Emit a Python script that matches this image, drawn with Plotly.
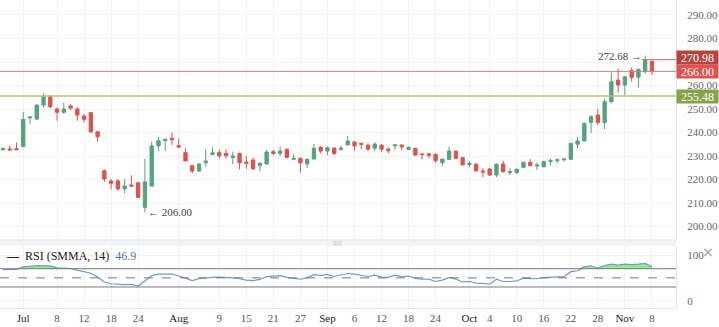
import plotly.graph_objects as go
import pandas as pd

# ---------------- data ----------------
dates = [d.strftime('%Y-%m-%d') for d in pd.bdate_range('2019-06-26', '2019-11-08')
         if d.strftime('%Y-%m-%d') != '2019-11-05']

opens = [232.7, 233.0, 233.1, 234.0, 246.2, 245.7, 251.7, 255.2, 250.0, 248.6,
         251.3, 250.0, 247.0, 248.4, 240.3, 223.7, 219.4, 219.4, 216.1, 217.7,
         218.6, 208.2, 217.2, 234.3, 236.5, 237.5, 234.4, 231.4, 225.9, 223.6,
         227.1, 230.6, 231.4, 231.1, 229.4, 231.1, 227.4, 228.3, 226.0, 226.6,
         231.8, 231.1, 232.8, 228.6, 229.0, 226.6, 228.7, 233.7, 232.1, 233.4,
         232.8, 234.7, 236.0, 235.4, 234.6, 233.3, 234.6, 232.9, 234.3, 234.7,
         232.8, 233.3, 230.9, 230.9, 230.7, 227.1, 228.6, 232.1, 229.3, 226.3,
         226.5, 223.6, 224.5, 221.9, 226.6, 222.9, 222.9, 225.2, 227.3, 225.7,
         225.4, 227.7, 228.0, 228.4, 228.6, 235.0, 236.4, 244.3, 247.4, 244.2,
         253.1, 262.3, 260.2, 266.3, 263.5, 265.9, 270.3]
highs = [233.5, 234.5, 235.7, 248.7, 246.9, 251.9, 256.7, 256.0, 250.7, 252.7,
         252.0, 250.7, 247.9, 248.6, 240.6, 224.3, 220.2, 220.2, 220.2, 221.8,
         219.0, 228.8, 236.1, 238.2, 237.5, 239.9, 237.4, 233.3, 226.2, 227.0,
         232.9, 233.7, 232.6, 232.9, 231.8, 231.4, 230.0, 229.4, 227.4, 232.6,
         232.6, 234.0, 233.3, 230.9, 229.4, 229.0, 235.1, 234.3, 234.0, 233.7,
         234.3, 238.5, 236.0, 235.4, 235.4, 235.7, 235.1, 233.7, 234.7, 234.7,
         234.0, 233.3, 230.9, 231.4, 231.1, 228.7, 234.0, 232.1, 229.3, 228.0,
         226.9, 224.8, 224.8, 226.9, 228.0, 224.8, 224.8, 227.6, 228.6, 227.1,
         228.0, 228.9, 229.0, 229.0, 235.7, 238.2, 244.2, 247.4, 249.9, 254.5,
         265.4, 267.3, 264.0, 267.7, 266.9, 272.68, 270.3]
lows = [232.3, 232.4, 232.6, 233.8, 243.6, 245.3, 250.7, 250.3, 245.0, 247.9,
        249.6, 245.0, 244.2, 239.7, 236.0, 218.9, 215.8, 215.2, 214.1, 216.9,
        212.0, 206.0, 217.2, 232.1, 232.1, 234.7, 233.4, 227.9, 222.6, 223.3,
        225.4, 230.6, 228.9, 228.9, 226.5, 224.3, 224.6, 224.0, 223.6, 226.2,
        230.4, 230.0, 229.0, 228.3, 222.9, 224.8, 228.7, 231.1, 230.4, 230.3,
        232.3, 234.7, 232.3, 232.8, 232.3, 232.1, 231.8, 231.1, 232.6, 232.3,
        232.6, 230.0, 228.6, 229.0, 227.1, 225.7, 228.3, 229.0, 226.2, 225.2,
        223.3, 220.9, 221.5, 220.9, 222.9, 221.9, 222.3, 224.8, 225.7, 224.0,
        225.2, 226.0, 226.9, 227.6, 228.3, 233.3, 236.2, 239.7, 243.2, 241.4,
        252.4, 256.9, 256.0, 261.6, 259.2, 264.9, 264.5]
closes = [233.2, 232.6, 232.7, 245.6, 246.6, 251.7, 255.5, 251.0, 248.6, 250.0,
          250.4, 247.4, 245.6, 240.3, 238.2, 220.2, 218.4, 216.0, 217.2, 217.2,
          212.4, 219.0, 234.3, 236.5, 237.1, 236.9, 233.8, 227.9, 223.6, 226.6,
          227.9, 231.4, 230.1, 230.1, 230.0, 227.1, 226.9, 224.6, 226.9, 231.7,
          231.1, 232.1, 229.4, 229.0, 227.1, 228.6, 233.3, 232.1, 233.5, 231.1,
          233.4, 236.4, 234.3, 235.0, 232.9, 235.1, 232.9, 232.3, 234.7, 233.9,
          233.7, 230.4, 230.6, 230.3, 228.0, 228.7, 232.1, 229.0, 226.2, 226.9,
          223.7, 223.2, 221.9, 226.5, 223.3, 223.3, 224.3, 227.3, 225.9, 226.2,
          227.7, 228.1, 228.4, 228.7, 235.4, 236.4, 243.9, 246.7, 244.3, 253.1,
          261.6, 260.2, 263.7, 263.5, 266.9, 270.7, 266.00]

rsi = [68, 68, 68.5, 74, 75.5, 77, 76.5, 76, 72, 71,
       70.5, 67, 63, 60, 52, 41, 37, 35.5, 35, 36,
       32, 43, 55, 58, 58.5, 58, 54, 49, 44, 48,
       50, 51, 51.5, 51, 50, 48, 45, 44, 46.5, 52.5,
       54, 55, 51, 49.5, 47, 50, 57, 55.5, 57.7, 53,
       55.5, 59.5, 58, 56, 53, 56, 51, 51, 56, 52.5,
       54, 49, 47, 47, 42, 45, 51, 47, 41, 42,
       38.5, 38, 36, 47, 42, 42, 43.5, 49, 48, 48,
       50.5, 51, 51, 52.5, 63.5, 65.5, 74.5, 76.5, 71, 77,
       80, 78, 80, 79, 80, 81.5, 74.5]

tick_dates = ['2019-07-01', '2019-07-08', '2019-07-12', '2019-07-18', '2019-07-24',
              '2019-08-01', '2019-08-09', '2019-08-15', '2019-08-21', '2019-08-27',
              '2019-09-02', '2019-09-06', '2019-09-12', '2019-09-18', '2019-09-24',
              '2019-10-01', '2019-10-04', '2019-10-10', '2019-10-16', '2019-10-22',
              '2019-10-28', '2019-11-01', '2019-11-08']
tick_labels = ['Jul', '8', '12', '18', '24', 'Aug', '9', '15', '21', '27',
               'Sep', '6', '12', '18', '24', 'Oct', '4', '10', '16', '22',
               '28', 'Nov', '8']
month_labels = {'Jul', 'Aug', 'Sep', 'Oct', 'Nov'}

price_ticks = [200, 210, 220, 230, 240, 250, 260, 270, 280, 290]
last_close = 266.00
upper_line = 270.98
green_line = 255.48
high_mark = 272.68
low_mark = 206.00
rsi_levels = [70, 50, 30]
rsi_legend_value = '46.9'

# ---------------- figure ----------------
FONT = 'Liberation Serif'
GRID = '#f0f2f5'
n = len(dates)
xr = [-0.44, 99.56]

fig = go.Figure()

fig.add_trace(go.Candlestick(
    x=dates, open=opens, high=highs, low=lows, close=closes,
    increasing=dict(line=dict(color='#55a37f', width=1), fillcolor='#55a37f'),
    decreasing=dict(line=dict(color='#e0514d', width=1), fillcolor='#e0514d'),
    xaxis='x', yaxis='y', showlegend=False, hoverinfo='skip'))

rsi_hi = [max(v, 70) for v in rsi]
fig.add_trace(go.Scatter(x=dates, y=[70] * n, mode='lines', line=dict(width=0, color='rgba(0,0,0,0)'),
                         xaxis='x2', yaxis='y2', showlegend=False, hoverinfo='skip'))
fig.add_trace(go.Scatter(x=dates, y=rsi_hi, mode='lines', line=dict(width=0, color='rgba(0,0,0,0)'),
                         fill='tonexty', fillcolor='#8fec8f',
                         xaxis='x2', yaxis='y2', showlegend=False, hoverinfo='skip'))
fig.add_trace(go.Scatter(x=dates, y=rsi, mode='lines', line=dict(width=1.2, color='#7199cc'),
                         xaxis='x2', yaxis='y2', showlegend=False, hoverinfo='skip'))

shapes = []
# separator band between panels
main_bottom = (308 - 240) / 308
rsi_top = (308 - 246) / 308
shapes.append(dict(type='rect', xref='paper', yref='paper', x0=0, x1=1, y0=rsi_top, y1=main_bottom,
                   fillcolor='#f1f3f6', line=dict(width=0), layer='below'))
shapes.append(dict(type='line', xref='paper', yref='paper', x0=0, x1=1, y0=main_bottom, y1=main_bottom,
                   line=dict(color='#e2e5ea', width=1)))
for k, yy in enumerate([241.5, 243.2, 244.9]):
    py = (308 - yy) / 308
    shapes.append(dict(type='line', xref='paper', yref='paper', x0=333 / 676, x1=342 / 676, y0=py, y1=py,
                       line=dict(color='#d3d7dc', width=1)))
# darker month gridlines
for d, lab in zip(tick_dates, tick_labels):
    if lab in month_labels and lab != 'Jul' and lab != 'Nov':
        i = dates.index(d)
        for yref, yr in (('y', (194.26, 296.38)), ('y2', (-16, 119.7))):
            shapes.append(dict(type='line', xref='x' if yref == 'y' else 'x2', yref=yref,
                               x0=i, x1=i, y0=yr[0], y1=yr[1],
                               line=dict(color='#dfe2e6', width=1), layer='below'))
# price lines
shapes.append(dict(type='line', xref='paper', yref='y', x0=0, x1=1, y0=green_line, y1=green_line,
                   line=dict(color='#b3c27e', width=1.5)))
shapes.append(dict(type='line', xref='paper', yref='y', x0=0, x1=1, y0=last_close, y1=last_close,
                   line=dict(color='#c98481', width=1)))
shapes.append(dict(type='line', xref='x', yref='y', x0=94.5, x1=xr[1], y0=upper_line, y1=upper_line,
                   line=dict(color='#c46a66', width=1)))
# RSI levels
for lv in rsi_levels:
    shapes.append(dict(type='line', xref='paper', yref='y2', x0=0, x1=1, y0=lv, y1=lv,
                       line=dict(color='#777777', width=1, dash='dash' if lv == 50 else 'solid')))

annotations = []
for val, col, ysh in ((upper_line, '#b4443f', 2.5), (last_close, '#e0524e', 0), (green_line, '#8aa14b', 0)):
    annotations.append(dict(x=1, xref='paper', y=val, yref='y', xanchor='left', yanchor='middle',
                            yshift=ysh, text=f'{val:.2f}', showarrow=False,
                            font=dict(family=FONT, size=12, color='white'),
                            bgcolor=col, width=41, height=13, borderpad=0, align='center'))
annotations.append(dict(x=dates[95], xref='x', y=high_mark, yref='y', xanchor='right', yanchor='middle',
                        xshift=-1, text=f'{high_mark:.2f} →', showarrow=False,
                        font=dict(family=FONT, size=11, color='#444')))
annotations.append(dict(x=dates[21], xref='x', y=low_mark, yref='y', xanchor='left', yanchor='middle',
                        xshift=1, text=f'← {low_mark:.2f}', showarrow=False,
                        font=dict(family=FONT, size=11, color='#444')))
annotations.append(dict(x=0, xref='paper', y=(308 - 256) / 308, yref='paper', xanchor='left', yanchor='middle',
                        xshift=4, text=f'<b>—</b>  RSI (SMMA, 14)  <span style="color:#4a78b8">{rsi_legend_value}</span>',
                        showarrow=False, font=dict(family=FONT, size=12, color='#222')))
annotations.append(dict(x=708 / 676, xref='paper', y=(308 - 252) / 308, yref='paper', xanchor='center',
                        yanchor='middle', text='×', showarrow=False,
                        font=dict(family='DejaVu Sans', size=14, color='#999')))

ticktext = [f'<span style="color:#222">{t}</span>' if t in month_labels else t for t in tick_labels]

fig.update_layout(
    width=719, height=327,
    margin=dict(l=0, r=43, t=0, b=19),
    paper_bgcolor='white', plot_bgcolor='white',
    font=dict(family=FONT, size=11, color='#555'),
    showlegend=False,
    shapes=shapes, annotations=annotations,
    xaxis=dict(type='category', domain=[0, 1], anchor='y', range=xr, rangeslider=dict(visible=False),
               tickvals=tick_dates, ticktext=tick_labels, showticklabels=False,
               showgrid=True, gridcolor=GRID, zeroline=False, showline=False),
    xaxis2=dict(type='category', domain=[0, 1], anchor='y2', range=xr, matches='x',
                tickvals=tick_dates, ticktext=ticktext, showgrid=True, gridcolor=GRID,
                zeroline=False, showline=True, linecolor='#e2e5ea', ticks='',
                tickfont=dict(family=FONT, size=11, color='#555')),
    yaxis=dict(domain=[main_bottom, 1], anchor='x', side='right', range=[194.26, 296.38],
               tickvals=price_ticks, ticktext=[f'{v:.2f}' for v in price_ticks],
               showgrid=True, gridcolor=GRID, zeroline=False, showline=True, linecolor='#e2e5ea',
               ticks='', ticklabelstandoff=8, tickfont=dict(family=FONT, size=11, color='#666')),
    yaxis2=dict(domain=[0, rsi_top], anchor='x2', side='right', range=[-16, 119.7],
                tickvals=[0, 100], ticktext=['0', '100'], showgrid=True, gridcolor=GRID,
                zeroline=False, showline=True, linecolor='#e2e5ea', ticks='', ticklabelstandoff=8,
                tickfont=dict(family=FONT, size=11, color='#666')),
)

fig.write_html('out.html')
